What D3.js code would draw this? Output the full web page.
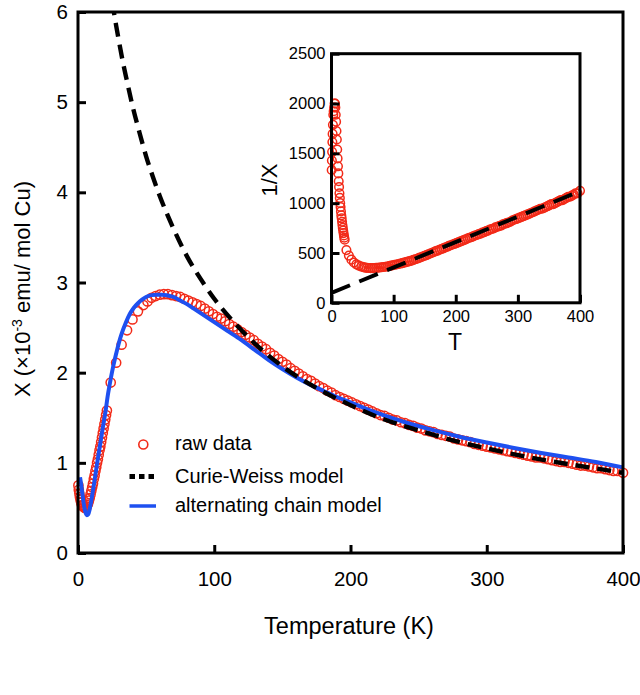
<!DOCTYPE html>
<html><head><meta charset="utf-8">
<script src="https://cdn.jsdelivr.net/npm/d3@7"></script>
<style>body{margin:0;background:#fff} svg{display:block} text{font-family:"Liberation Sans",Arial,Helvetica,sans-serif}</style>
</head><body><svg id="c" width="640" height="695"></svg>
<script>
// ---- data ----
const rawT = [
  0.3,0.6,1.0,1.4,1.8,2.3,2.9,3.5,4.2,5.0,
  5.6,6.2,6.8,7.4,8.0,8.6,9.2,9.8,10.4,11.0,
  11.6,12.2,12.8,13.4,14.0,14.6,15.2,15.8,16.4,17.0,
  17.6,18.2,18.8,19.4,20.0,20.6,21.2,
  24,28,32,36,40,44,48,51,54,57,
  60,63,66,69,72,75,78,81,84,87,
  90,93,96,99,102,105,108,111,114,117,
  120,123,126,129,132,135,138,141,144,147,
  150,153,156,159,162,165,168,171,174,177,
  180,183,186,189,192,195,198,201,204,207,
  210,213,216,219,222,225,228,231,234,237,
  240,243,246,249,252,255,258,261,264,267,
  270,273,276,279,282,285,288,291,294,297,
  300,303,306,309,312,315,318,321,324,327,
  330,333,336,339,342,345,348,351,354,357,
  360,363,366,369,372,375,378,381,384,387,
  390,393,396,400];
const rawChi = [
  0.75,0.70,0.66,0.62,0.59,0.56,0.53,0.52,0.51,0.50,
  0.50,0.51,0.53,0.55,0.58,0.61,0.65,0.69,0.73,0.77,
  0.82,0.86,0.91,0.95,1.00,1.04,1.09,1.14,1.18,1.23,
  1.28,1.33,1.38,1.43,1.48,1.53,1.58,
  1.89,2.11,2.31,2.47,2.59,2.68,2.75,2.79,2.83,2.85,
  2.865,2.87,2.87,2.86,2.85,2.84,2.82,2.80,2.78,2.76,
  2.74,2.71,2.68,2.65,2.62,2.60,2.57,2.54,2.51,2.48,
  2.45,2.42,2.39,2.36,2.32,2.29,2.26,2.22,2.19,2.15,
  2.12,2.09,2.05,2.02,1.99,1.96,1.93,1.91,1.88,1.85,
  1.83,1.80,1.78,1.75,1.73,1.71,1.69,1.67,1.65,1.63,
  1.61,1.59,1.57,1.55,1.53,1.52,1.50,1.48,1.47,1.45,
  1.44,1.42,1.41,1.39,1.38,1.36,1.35,1.34,1.32,1.31,
  1.30,1.29,1.27,1.26,1.25,1.24,1.23,1.21,1.20,1.19,
  1.18,1.17,1.16,1.15,1.14,1.13,1.12,1.11,1.10,1.09,
  1.08,1.07,1.06,1.06,1.05,1.04,1.03,1.02,1.01,1.01,
  1.00,0.99,0.98,0.97,0.97,0.96,0.95,0.94,0.94,0.93,
  0.92,0.91,0.91,0.89];

const fitT = [1.5,2.5,3.5,4.5,5.5,6.5,7.5,8.5,9.5,10.5,11.5,12.5,14,16,18,20,22,24,26,28,30,32,35,38,41,44,47,50,54,58,62,66,70,75,80,85,90,95,100,105,110,120,130,140,150,160,170,180,190,200,220,240,260,280,300,320,340,360,380,400];
const fitChi = [0.84,0.74,0.62,0.52,0.45,0.42,0.43,0.48,0.56,0.65,0.74,0.84,0.99,1.18,1.37,1.55,1.76,1.93,2.08,2.21,2.33,2.43,2.55,2.65,2.72,2.77,2.81,2.84,2.86,2.865,2.865,2.855,2.84,2.80,2.76,2.71,2.66,2.61,2.56,2.51,2.46,2.36,2.25,2.14,2.04,1.95,1.87,1.80,1.73,1.67,1.55,1.45,1.365,1.29,1.225,1.165,1.11,1.06,1.01,0.95];

const cwT = [25,26,28,30,33,36,40,45,50,55,60,70,80,90,100,115,130,150,175,200,225,250,275,300,325,350,375,400];
const cwChi = [6.12,6.03,5.85,5.68,5.44,5.23,4.96,4.67,4.40,4.17,3.96,3.60,3.29,3.04,2.82,2.55,2.32,2.07,1.83,1.64,1.48,1.36,1.25,1.16,1.08,1.01,0.95,0.89];

const insetCwT = [0, 400];
const insetCwInv = [100, 1120];

const mainXTicks = [0,100,200,300,400];
const mainYTicks = [0,1,2,3,4,5,6];
const insetXTicks = [0,100,200,300,400];
const insetYTicks = [0,500,1000,1500,2000,2500];
const legendLabels = ["raw data","Curie-Weiss model","alternating chain model"];

// ---- drawing ----
const svg = d3.select("#c");
const RED = "#f22a18", BLUE = "#1e50f0";
const FONT = "'Liberation Sans', Arial, Helvetica, sans-serif";
const M = {l:78, r:623, t:12, b:553};
const x = d3.scaleLinear().domain([0,400]).range([M.l, M.r]);
const y = d3.scaleLinear().domain([0,6]).range([M.b, M.t]);

svg.append("clipPath").attr("id","mc").append("rect")
  .attr("x",M.l).attr("y",M.t).attr("width",M.r-M.l).attr("height",M.b-M.t);

// raw data circles
svg.append("g").selectAll("circle").data(rawT).join("circle")
  .attr("cx",d=>x(d)).attr("cy",(d,i)=>y(rawChi[i])).attr("r",4.6)
  .attr("fill","none").attr("stroke",RED).attr("stroke-width",1.5);

// alternating chain model
const lineMain = d3.line().x(d=>x(d[0])).y(d=>y(d[1])).curve(d3.curveMonotoneX);
svg.append("path").datum(fitT.map((t,i)=>[t,fitChi[i]]))
  .attr("d",lineMain).attr("fill","none").attr("stroke",BLUE).attr("stroke-width",4);

// Curie-Weiss
svg.append("path").datum(cwT.map((t,i)=>[t,cwChi[i]]))
  .attr("clip-path","url(#mc)")
  .attr("d",lineMain).attr("fill","none").attr("stroke","#000").attr("stroke-width",4.4)
  .attr("stroke-dasharray","14,8");

// frame
svg.append("rect").attr("x",M.l).attr("y",M.t).attr("width",M.r-M.l).attr("height",M.b-M.t)
  .attr("fill","none").attr("stroke","#000").attr("stroke-width",3);

function styleAxis(g, fs){
  g.select(".domain").remove();
  g.selectAll(".tick line").attr("stroke","#000").attr("stroke-width",3);
  g.selectAll(".tick text").attr("font-size",fs).attr("font-family",FONT).attr("fill","#000");
}
svg.append("g").attr("transform",`translate(0,${M.b})`)
  .call(d3.axisBottom(x).tickValues(mainXTicks).tickSizeInner(-8).tickSizeOuter(0).tickPadding(18).tickFormat(d3.format("d")))
  .call(g=>styleAxis(g,20.5));
svg.append("g").attr("transform",`translate(${M.l},0)`)
  .call(d3.axisLeft(y).tickValues(mainYTicks).tickSizeInner(-8).tickSizeOuter(0).tickPadding(10).tickFormat(d3.format("d")))
  .call(g=>styleAxis(g,20.5));

// axis titles
svg.append("text").attr("x",349).attr("y",634).attr("text-anchor","middle")
  .attr("font-size",23.5).attr("font-family",FONT).text("Temperature (K)");
const yt = svg.append("text").attr("transform","translate(30,289) rotate(-90)")
  .attr("text-anchor","middle").attr("font-size",22).attr("font-family",FONT);
yt.append("tspan").text("Χ (×10");
yt.append("tspan").attr("font-size",14).attr("dy",-8).text("-3");
yt.append("tspan").attr("dy",8).text(" emu/ mol Cu)");

// legend
const lg = svg.append("g");
const rowsY = [450, 482.5, 512];
lg.append("circle").attr("cx",143.3).attr("cy",rowsY[0]-5.5).attr("r",4.5)
  .attr("fill","none").attr("stroke",RED).attr("stroke-width",1.6);
lg.append("line").attr("x1",129.5).attr("x2",154).attr("y1",rowsY[1]-6).attr("y2",rowsY[1]-6)
  .attr("stroke","#000").attr("stroke-width",5).attr("stroke-dasharray","5.5,4");
lg.append("line").attr("x1",129.5).attr("x2",156).attr("y1",rowsY[2]-6).attr("y2",rowsY[2]-6)
  .attr("stroke",BLUE).attr("stroke-width",3.5);
lg.selectAll("text.lab").data(legendLabels).join("text").attr("class","lab")
  .attr("x",175).attr("y",(d,i)=>rowsY[i]).attr("font-size",20).attr("font-family",FONT).text(d=>d);

// ---- inset ----
const I = {l:331.5, r:580, t:53.7, b:302.8};
const xi = d3.scaleLinear().domain([0,400]).range([I.l, I.r]);
const yi = d3.scaleLinear().domain([0,2500]).range([I.b, I.t]);
svg.append("rect").attr("x",I.l).attr("y",I.t).attr("width",I.r-I.l).attr("height",I.b-I.t).attr("fill","#fff");
svg.append("g").selectAll("circle").data(rawT).join("circle")
  .attr("cx",d=>xi(d)).attr("cy",(d,i)=>yi(1000/rawChi[i])).attr("r",4.3)
  .attr("fill","none").attr("stroke",RED).attr("stroke-width",1.5);
svg.append("path").datum(insetCwT.map((t,i)=>[t,insetCwInv[i]]))
  .attr("d",d3.line().x(d=>xi(d[0])).y(d=>yi(d[1])))
  .attr("fill","none").attr("stroke","#000").attr("stroke-width",4).attr("stroke-dasharray","20,10");
svg.append("rect").attr("x",I.l).attr("y",I.t).attr("width",I.r-I.l).attr("height",I.b-I.t)
  .attr("fill","none").attr("stroke","#000").attr("stroke-width",3);
svg.append("g").attr("transform",`translate(0,${I.b})`)
  .call(d3.axisBottom(xi).tickValues(insetXTicks).tickSizeInner(-8).tickSizeOuter(0).tickPadding(7).tickFormat(d3.format("d")))
  .call(g=>styleAxis(g,16.5));
svg.append("g").attr("transform",`translate(${I.l},0)`)
  .call(d3.axisLeft(yi).tickValues(insetYTicks).tickSizeInner(-8).tickSizeOuter(0).tickPadding(6).tickFormat(d3.format("d")))
  .call(g=>styleAxis(g,16.5));
svg.append("text").attr("x",455).attr("y",350).attr("text-anchor","middle")
  .attr("font-size",23).attr("font-family",FONT).text("T");
svg.append("text").attr("transform","translate(277,180) rotate(-90)").attr("text-anchor","middle")
  .attr("font-size",22).attr("font-family",FONT).text("1/Χ");
</script></body></html>
